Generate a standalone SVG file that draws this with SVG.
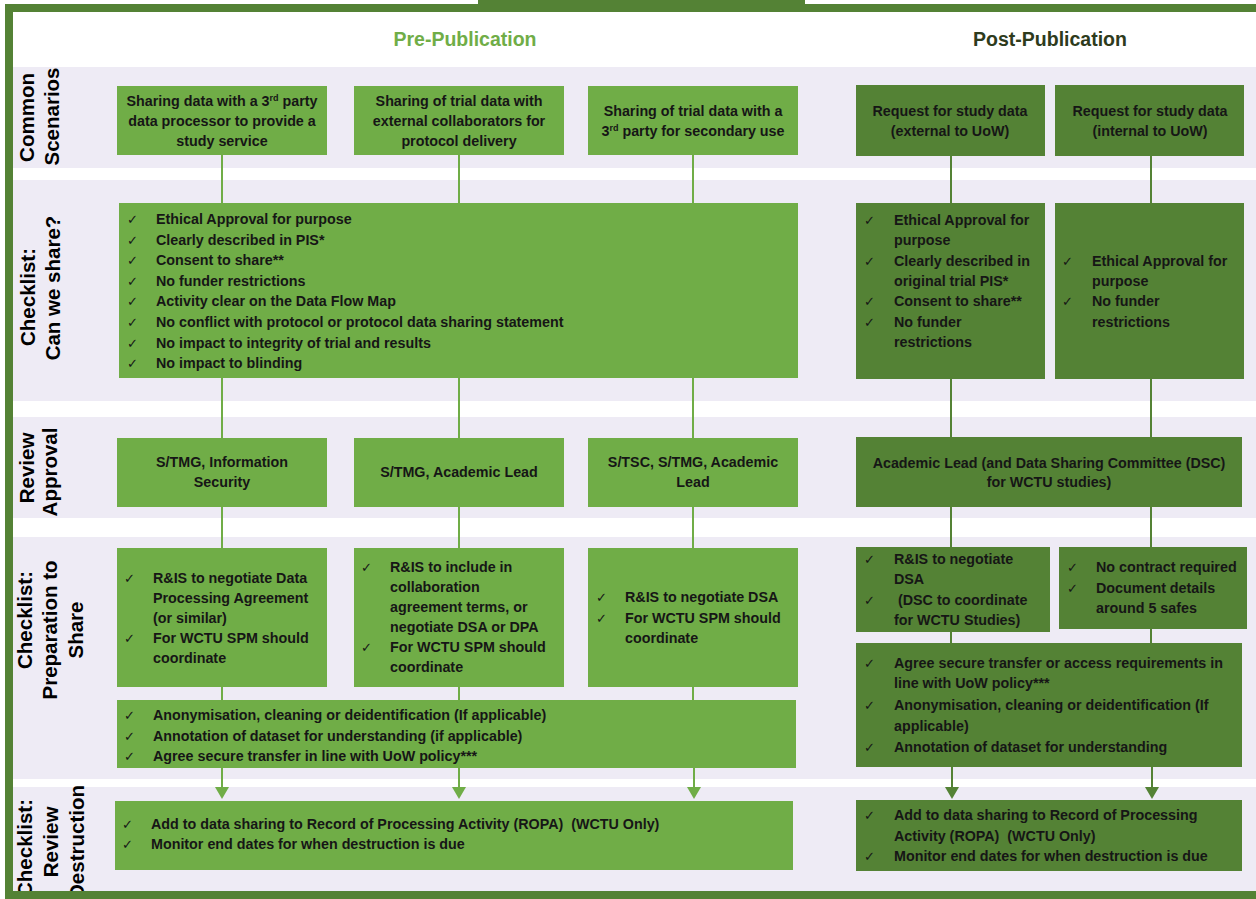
<svg xmlns="http://www.w3.org/2000/svg" width="1256" height="899" viewBox="0 0 1256 899">
<style>
.band{fill:#EEEBF5}
.pre{fill:#70AD47}
.post{fill:#548235}
.t{font-family:"Liberation Sans",Arial,sans-serif;font-weight:bold;font-size:14.3px;fill:#161616}
.c{text-anchor:middle}
.ck{font-family:"DejaVu Sans",sans-serif;font-size:13px;fill:#161616}
.lbl{font-family:"Liberation Sans",Arial,sans-serif;font-weight:bold;font-size:20.5px;fill:#000;text-anchor:middle}
.hd{font-family:"Liberation Sans",Arial,sans-serif;font-weight:bold;font-size:19.5px;text-anchor:middle}
.lp{stroke:#70AD47;stroke-width:2;fill:none}
.lq{stroke:#548235;stroke-width:2;fill:none}
.sup{font-size:9px}
</style>
<defs>
<marker id="ap" viewBox="0 0 12 14" refX="0" refY="7" markerWidth="12" markerHeight="14" markerUnits="userSpaceOnUse" orient="auto"><path d="M0,0 L12,7 L0,14 z" fill="#70AD47"/></marker>
<marker id="aq" viewBox="0 0 12 14" refX="0" refY="7" markerWidth="12" markerHeight="14" markerUnits="userSpaceOnUse" orient="auto"><path d="M0,0 L12,7 L0,14 z" fill="#548235"/></marker>
</defs>
<rect x="0" y="0" width="1256" height="899" fill="#fff"/>
<g id="bands">
<rect class="band" x="13" y="67" width="1243" height="101"/>
<rect class="band" x="13" y="180" width="1243" height="221"/>
<rect class="band" x="13" y="417" width="1243" height="101"/>
<rect class="band" x="13" y="537" width="1243" height="242"/>
<rect class="band" x="13" y="787" width="1243" height="106"/>
</g>
<g id="headers">
<text class="hd" x="465" y="46" fill="#70AD47">Pre-Publication</text>
<text class="hd" x="1050" y="46" fill="#2E3B1C">Post-Publication</text>
</g>
<g id="row-labels">
<text class="lbl" transform="translate(34,117.5) rotate(-90)">Common</text>
<text class="lbl" transform="translate(59,116.5) rotate(-90)">Scenarios</text>
<text class="lbl" transform="translate(35,297) rotate(-90)">Checklist:</text>
<text class="lbl" transform="translate(60,288) rotate(-90)">Can we share?</text>
<text class="lbl" transform="translate(34,468) rotate(-90)">Review</text>
<text class="lbl" transform="translate(57,472) rotate(-90)">Approval</text>
<text class="lbl" transform="translate(32,620) rotate(-90)">Checklist:</text>
<text class="lbl" transform="translate(57,630) rotate(-90)">Preparation to</text>
<text class="lbl" transform="translate(83,630) rotate(-90)">Share</text>
<text class="lbl" transform="translate(32,848) rotate(-90)">Checklist:</text>
<text class="lbl" transform="translate(58,842) rotate(-90)">Review</text>
<text class="lbl" transform="translate(84,842) rotate(-90)">Destruction</text>
</g>
<g id="connectors">
<path class="lp" d="M222,155 V203 M459,155 V203 M693,155 V203"/>
<path class="lp" d="M222,378 V438 M459,378 V438 M693,378 V438"/>
<path class="lp" d="M222,507 V548 M459,507 V548 M693,507 V548"/>
<path class="lp" d="M222,687 V700 M459,687 V700 M693,687 V700"/>
<path class="lp" d="M222,768 V787" marker-end="url(#ap)"/>
<path class="lp" d="M459,768 V787" marker-end="url(#ap)"/>
<path class="lp" d="M694,768 V787" marker-end="url(#ap)"/>
<path class="lq" d="M951,156 V203 M1151,156 V203"/>
<path class="lq" d="M951,379 V437 M1151,379 V437"/>
<path class="lq" d="M951,507 V547 M1151,507 V547"/>
<path class="lq" d="M951,632 V643 M1151,629 V643"/>
<path class="lq" d="M952,767 V787" marker-end="url(#aq)"/>
<path class="lq" d="M1152,767 V787" marker-end="url(#aq)"/>
</g>
<g id="scenario-processor">
<rect class="pre" x="117" y="86" width="210" height="69"/>
<text class="t c" x="222" y="106">Sharing data with a 3<tspan class="sup" dy="-5">rd</tspan><tspan dy="5"> party</tspan></text>
<text class="t c" x="222" y="126">data processor to provide a</text>
<text class="t c" x="222" y="146">study service</text>
</g>
<g id="scenario-collaborators">
<rect class="pre" x="354" y="86" width="210" height="69"/>
<text class="t c" x="459" y="106">Sharing of trial data with</text>
<text class="t c" x="459" y="126">external collaborators for</text>
<text class="t c" x="459" y="146">protocol delivery</text>
</g>
<g id="scenario-secondary">
<rect class="pre" x="588" y="86" width="210" height="69"/>
<text class="t c" x="693" y="116">Sharing of trial data with a</text>
<text class="t c" x="693" y="136">3<tspan class="sup" dy="-5">rd</tspan><tspan dy="5"> party for secondary use</tspan></text>
</g>
<g id="scenario-external">
<rect class="post" x="856" y="85" width="189" height="71"/>
<text class="t c" x="950" y="116">Request for study data</text>
<text class="t c" x="950" y="136">(external to UoW)</text>
</g>
<g id="scenario-internal">
<rect class="post" x="1055" y="85" width="189" height="71"/>
<text class="t c" x="1150" y="116">Request for study data</text>
<text class="t c" x="1150" y="136">(internal to UoW)</text>
</g>
<g id="check-pre">
<rect class="pre" x="119" y="203" width="679" height="175"/>
<text class="ck" x="127" y="224">✓</text><text class="t" x="156" y="224">Ethical Approval for purpose</text>
<text class="ck" x="127" y="244.6">✓</text><text class="t" x="156" y="244.6">Clearly described in PIS*</text>
<text class="ck" x="127" y="265.2">✓</text><text class="t" x="156" y="265.2">Consent to share**</text>
<text class="ck" x="127" y="285.8">✓</text><text class="t" x="156" y="285.8">No funder restrictions</text>
<text class="ck" x="127" y="306.4">✓</text><text class="t" x="156" y="306.4">Activity clear on the Data Flow Map</text>
<text class="ck" x="127" y="327">✓</text><text class="t" x="156" y="327">No conflict with protocol or protocol data sharing statement</text>
<text class="ck" x="127" y="347.6">✓</text><text class="t" x="156" y="347.6">No impact to integrity of trial and results</text>
<text class="ck" x="127" y="368.2">✓</text><text class="t" x="156" y="368.2">No impact to blinding</text>
</g>
<g id="check-external">
<rect class="post" x="856" y="203" width="189" height="176"/>
<text class="ck" x="864" y="225">✓</text><text class="t" x="894" y="225">Ethical Approval for</text>
<text class="t" x="894" y="245">purpose</text>
<text class="ck" x="864" y="266">✓</text><text class="t" x="894" y="266">Clearly described in</text>
<text class="t" x="894" y="286">original trial PIS*</text>
<text class="ck" x="864" y="306">✓</text><text class="t" x="894" y="306">Consent to share**</text>
<text class="ck" x="864" y="327">✓</text><text class="t" x="894" y="327">No funder</text>
<text class="t" x="894" y="347">restrictions</text>
</g>
<g id="check-internal">
<rect class="post" x="1055" y="203" width="189" height="176"/>
<text class="ck" x="1062" y="266">✓</text><text class="t" x="1092" y="266">Ethical Approval for</text>
<text class="t" x="1092" y="286">purpose</text>
<text class="ck" x="1062" y="306">✓</text><text class="t" x="1092" y="306">No funder</text>
<text class="t" x="1092" y="327">restrictions</text>
</g>
<g id="review-processor">
<rect class="pre" x="117" y="438" width="210" height="69"/>
<text class="t c" x="222" y="467">S/TMG, Information</text>
<text class="t c" x="222" y="487">Security</text>
</g>
<g id="review-collaborators">
<rect class="pre" x="354" y="438" width="210" height="69"/>
<text class="t c" x="459" y="477">S/TMG, Academic Lead</text>
</g>
<g id="review-secondary">
<rect class="pre" x="588" y="438" width="210" height="69"/>
<text class="t c" x="693" y="467">S/TSC, S/TMG, Academic</text>
<text class="t c" x="693" y="487">Lead</text>
</g>
<g id="review-post">
<rect class="post" x="856" y="437" width="386" height="70"/>
<text class="t c" x="1049" y="468">Academic Lead (and Data Sharing Committee (DSC)</text>
<text class="t c" x="1049" y="487">for WCTU studies)</text>
</g>
<g id="prep-processor">
<rect class="pre" x="117" y="548" width="210" height="139"/>
<text class="ck" x="124" y="583">✓</text><text class="t" x="153" y="583">R&amp;IS to negotiate Data</text>
<text class="t" x="153" y="603">Processing Agreement</text>
<text class="t" x="153" y="623">(or similar)</text>
<text class="ck" x="124" y="643">✓</text><text class="t" x="153" y="643">For WCTU SPM should</text>
<text class="t" x="153" y="663">coordinate</text>
</g>
<g id="prep-collaborators">
<rect class="pre" x="354" y="548" width="210" height="139"/>
<text class="ck" x="361" y="572">✓</text><text class="t" x="390" y="572">R&amp;IS to include in</text>
<text class="t" x="390" y="592">collaboration</text>
<text class="t" x="390" y="612">agreement terms, or</text>
<text class="t" x="390" y="632">negotiate DSA or DPA</text>
<text class="ck" x="361" y="652">✓</text><text class="t" x="390" y="652">For WCTU SPM should</text>
<text class="t" x="390" y="672">coordinate</text>
</g>
<g id="prep-secondary">
<rect class="pre" x="588" y="548" width="210" height="139"/>
<text class="ck" x="596" y="602">✓</text><text class="t" x="625" y="602">R&amp;IS to negotiate DSA</text>
<text class="ck" x="596" y="623">✓</text><text class="t" x="625" y="623">For WCTU SPM should</text>
<text class="t" x="625" y="643">coordinate</text>
</g>
<g id="prep-pre-common">
<rect class="pre" x="117" y="700" width="679" height="68"/>
<text class="ck" x="124" y="720">✓</text><text class="t" x="153" y="720">Anonymisation, cleaning or deidentification (If applicable)</text>
<text class="ck" x="124" y="741">✓</text><text class="t" x="153" y="741">Annotation of dataset for understanding (if applicable)</text>
<text class="ck" x="124" y="761">✓</text><text class="t" x="153" y="761">Agree secure transfer in line with UoW policy***</text>
</g>
<g id="prep-external">
<rect class="post" x="856" y="547" width="194" height="85"/>
<text class="ck" x="864" y="564">✓</text><text class="t" x="894" y="564">R&amp;IS to negotiate</text>
<text class="t" x="894" y="584">DSA</text>
<text class="ck" x="864" y="605">✓</text><text class="t" x="898" y="605">(DSC to coordinate</text>
<text class="t" x="894" y="625">for WCTU Studies)</text>
</g>
<g id="prep-internal">
<rect class="post" x="1059" y="547" width="188" height="82"/>
<text class="ck" x="1067" y="572">✓</text><text class="t" x="1096" y="572">No contract required</text>
<text class="ck" x="1067" y="593">✓</text><text class="t" x="1096" y="593">Document details</text>
<text class="t" x="1096" y="613">around 5 safes</text>
</g>
<g id="prep-post-common">
<rect class="post" x="856" y="643" width="386" height="124"/>
<text class="ck" x="864" y="668">✓</text><text class="t" x="894" y="668">Agree secure transfer or access requirements in</text>
<text class="t" x="894" y="688">line with UoW policy***</text>
<text class="ck" x="864" y="710">✓</text><text class="t" x="894" y="710">Anonymisation, cleaning or deidentification (If</text>
<text class="t" x="894" y="731">applicable)</text>
<text class="ck" x="864" y="752">✓</text><text class="t" x="894" y="752">Annotation of dataset for understanding</text>
</g>
<g id="destruction-pre">
<rect class="pre" x="115" y="801" width="678" height="69"/>
<text class="ck" x="122" y="829">✓</text><text class="t" x="151" y="829" xml:space="preserve">Add to data sharing to Record of Processing Activity (ROPA)  (WCTU Only)</text>
<text class="ck" x="122" y="849">✓</text><text class="t" x="151" y="849">Monitor end dates for when destruction is due</text>
</g>
<g id="destruction-post">
<rect class="post" x="856" y="800" width="386" height="71"/>
<text class="ck" x="864" y="820">✓</text><text class="t" x="894" y="820">Add to data sharing to Record of Processing</text>
<text class="t" x="894" y="841" xml:space="preserve">Activity (ROPA)  (WCTU Only)</text>
<text class="ck" x="864" y="861">✓</text><text class="t" x="894" y="861">Monitor end dates for when destruction is due</text>
</g>
<g id="frame">
<rect x="478" y="0" width="327" height="10" fill="#548235"/>
<rect x="9" y="8" width="1262" height="887" fill="none" stroke="#548235" stroke-width="8"/>
</g>
</svg>
